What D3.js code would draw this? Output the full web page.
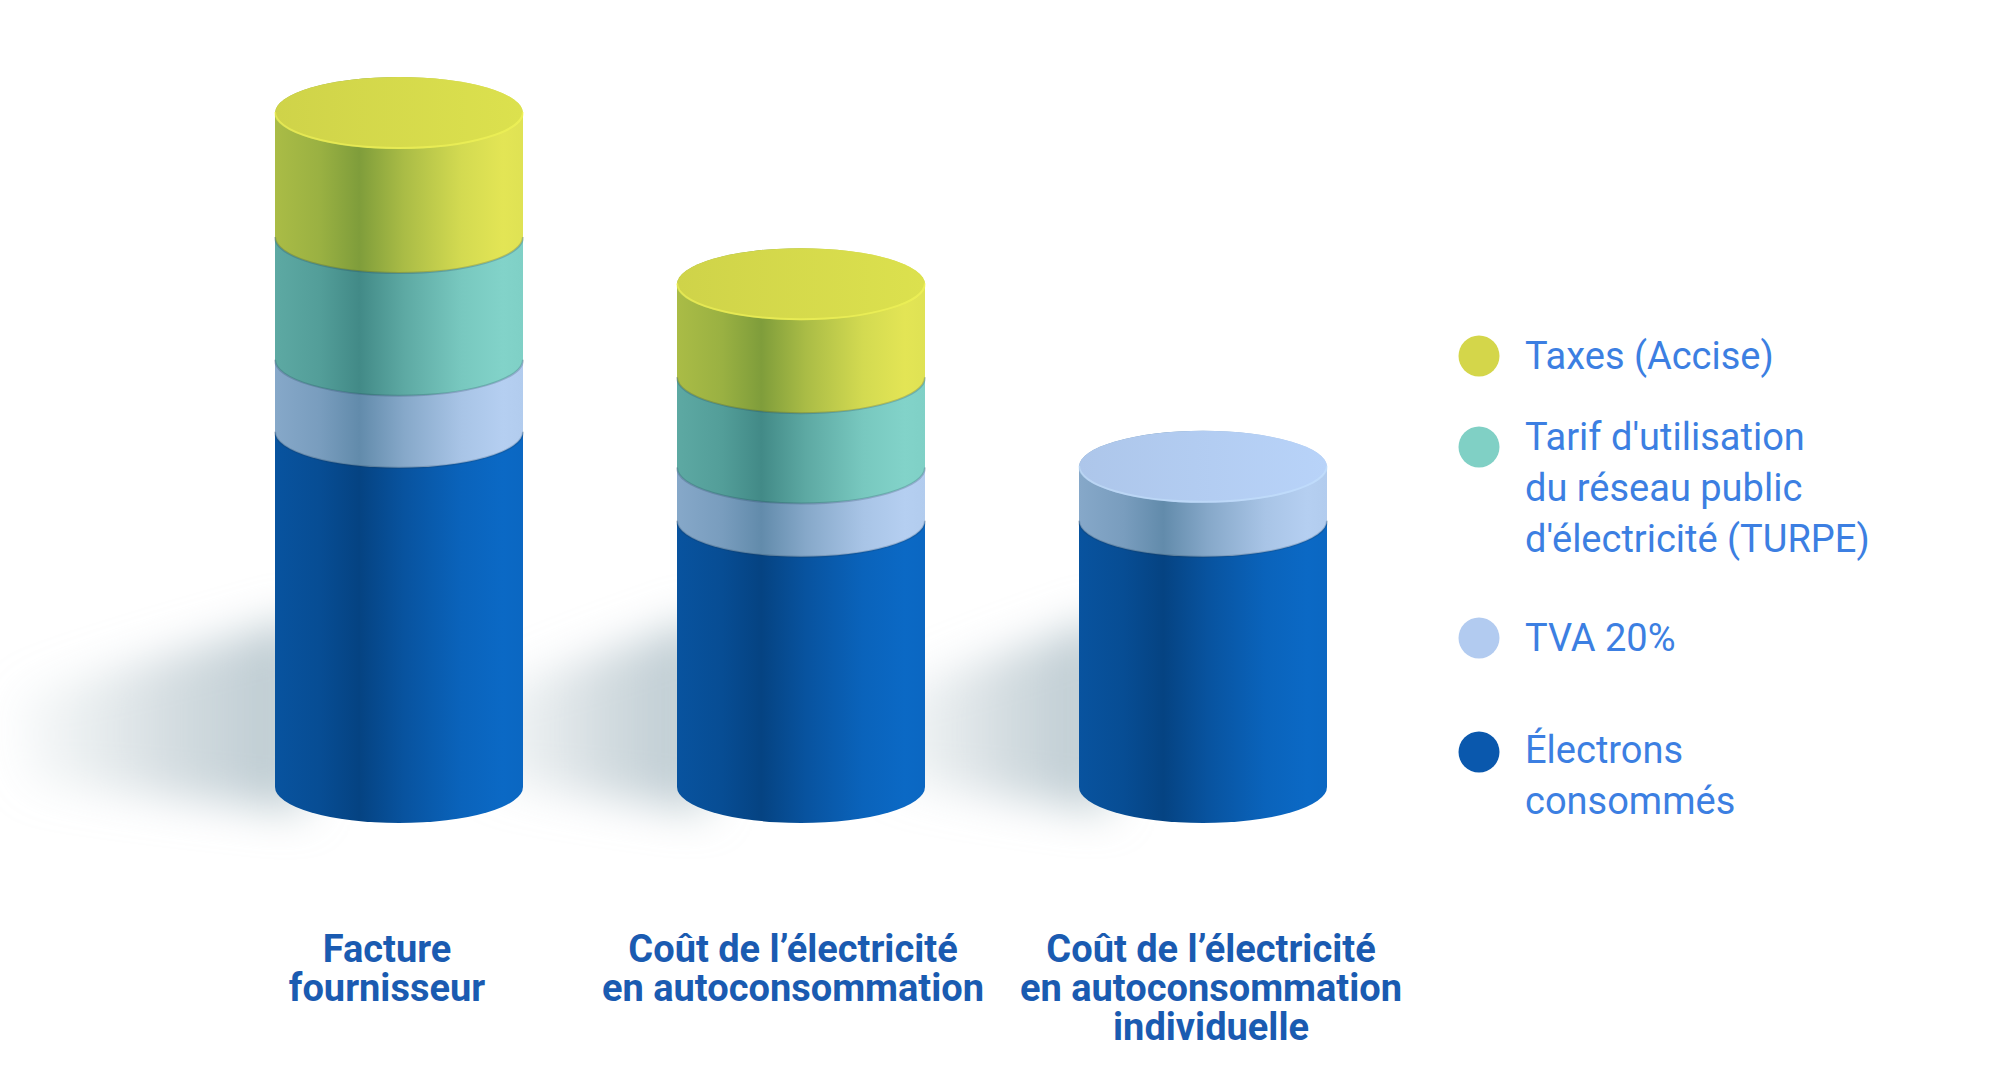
<!DOCTYPE html>
<html>
<head>
<meta charset="utf-8">
<script src="https://cdn.jsdelivr.net/npm/d3@7"></script>
<style>
  html, body { margin: 0; padding: 0; background: #fff; }
  svg { display: block; }
</style>
</head>
<body>
<div id="chart"></div>
<script>
// Values (Facture fournisseur = 100)
const categories = ["Facture fournisseur", "Coût de l’électricité en autoconsommation", "Coût de l’électricité en autoconsommation individuelle"];
const categoryLines = [["Facture", "fournisseur"], ["Coût de l’électricité", "en autoconsommation"], ["Coût de l’électricité", "en autoconsommation", "individuelle"]];
const seriesKeys = ["electrons", "tva", "turpe", "taxes"];
const electrons = [52.7, 39.5, 39.5];
const tva = [10.7, 7.9, 8.0];
const turpe = [18.2, 13.4, 0];
const taxes = [18.4, 13.8, 0];
const legendKeys = ["taxes", "turpe", "tva", "electrons"];
const legendLines = [["Taxes (Accise)"], ["Tarif d'utilisation", "du réseau public", "d'électricité (TURPE)"], ["TVA 20%"], ["Électrons", "consommés"]];

// colours: lit side, shaded side, top face
const colors = {
  taxes:     { light: "#e3e555", dark: "#7b9a3a", top: "#d6db4c", dot: "#d4d64a" },
  turpe:     { light: "#82d3c9", dark: "#3f8784", top: "#84d3c8", dot: "#80d0c5" },
  tva:       { light: "#b5cff1", dark: "#5f88a8", top: "#b3cdf2", dot: "#b2cbf0" },
  electrons: { light: "#0b69c5", dark: "#05417f", top: "#0a62b8", dot: "#0a58ad" }
};

let width = 1999, height = 1092;
let rx = 124, ry = 36;

const table = categories.map((c, i) => ({
  category: c, electrons: electrons[i], tva: tva[i], turpe: turpe[i], taxes: taxes[i]
}));
const stacked = d3.stack().keys(seriesKeys)(table);

const x = d3.scaleBand().domain(categories).range([198, 1404]).padding(0);
const y = d3.scaleLinear().domain([0, 100]).range([787, 113]);
const cx = c => x(c) + x.bandwidth() / 2;

const svg = d3.select("#chart").append("svg")
    .attr("width", width)
    .attr("height", height)
    .attr("viewBox", [0, 0, width, height]);

const defs = svg.append("defs");

// side gradients: medium on the left, dark band, bright on the right
seriesKeys.forEach(k => {
  const mix = d3.interpolateRgb(colors[k].dark, colors[k].light);
  const g = defs.append("linearGradient").attr("id", `side-${k}`)
      .attr("x1", 0).attr("x2", 1).attr("y1", 0).attr("y2", 0);
  [[0, 0.45], [0.18, 0.3], [0.34, 0.04], [0.52, 0.45], [0.75, 0.85], [0.92, 1], [1, 0.96]]
    .forEach(([o, t]) => g.append("stop").attr("offset", o).attr("stop-color", mix(t)));
  const tg = defs.append("linearGradient").attr("id", `top-${k}`)
      .attr("x1", 0).attr("x2", 1).attr("y1", 0).attr("y2", 0);
  tg.append("stop").attr("offset", 0).attr("stop-color", d3.color(colors[k].top).darker(0.1));
  tg.append("stop").attr("offset", 1).attr("stop-color", d3.color(colors[k].top).brighter(0.08));
});

defs.append("filter").attr("id", "blur")
    .attr("x", "-50%").attr("y", "-50%").attr("width", "200%").attr("height", "200%")
  .append("feGaussianBlur").attr("stdDeviation", 22);

const shadowGrad = defs.append("linearGradient").attr("id", "shadow-grad")
    .attr("x1", 0).attr("x2", 1).attr("y1", 0).attr("y2", 0);
shadowGrad.append("stop").attr("offset", 0).attr("stop-color", "#c8d3d8").attr("stop-opacity", 0.1);
shadowGrad.append("stop").attr("offset", 0.6).attr("stop-color", "#c0cdd3").attr("stop-opacity", 0.75);
shadowGrad.append("stop").attr("offset", 1).attr("stop-color", "#b5c5cc").attr("stop-opacity", 0.95);

// ground shadows, cast to the left
svg.append("g")
  .selectAll("path")
  .data(categories)
  .join("path")
    .attr("filter", "url(#blur)")
    .attr("fill", "url(#shadow-grad)")
    .attr("d", c => {
      const l = cx(c) - rx, b = y(0);
      const reach = c === categories[0] ? 250 : 190;
      return `M${l + 30},${b + 24} L${l - reach},${b - 5} L${l - reach - 10},${b - 90} L${l + 30},${b - 170} Z`;
    });

// cylinders, one segment per stacked layer, drawn bottom to top
const sidePath = (c, y0, y1) => {
  const l = cx(c) - rx, r = cx(c) + rx;
  return `M${l},${y1} L${l},${y0} A${rx},${ry} 0 0 0 ${r},${y0} L${r},${y1} A${rx},${ry} 0 0 0 ${l},${y1} Z`;
};
const frontArc = (c, yy) => `M${cx(c) - rx},${yy} A${rx},${ry} 0 0 0 ${cx(c) + rx},${yy}`;

const cyl = svg.append("g");
stacked.forEach(layer => {
  const k = layer.key;
  const segs = layer.filter(d => d[1] - d[0] > 0);
  cyl.append("g")
    .selectAll("path")
    .data(segs)
    .join("path")
      .attr("fill", `url(#side-${k})`)
      .attr("d", d => sidePath(d.data.category, y(d[0]), y(d[1])));
  // soft contact line under each upper layer
  cyl.append("g")
    .selectAll("path")
    .data(segs.filter(d => d[0] > 0))
    .join("path")
      .attr("fill", "none")
      .attr("stroke", "#1d3550")
      .attr("stroke-opacity", 0.22)
      .attr("stroke-width", 2)
      .attr("d", d => frontArc(d.data.category, y(d[0])));
});

// top faces
const topOf = categories.map((c, i) => {
  let key = null, val = 0;
  stacked.forEach(layer => {
    if (layer[i][1] - layer[i][0] > 0) { key = layer.key; val = layer[i][1]; }
  });
  return { category: c, key, val };
});
const tops = cyl.append("g")
  .selectAll("g")
  .data(topOf)
  .join("g");
tops.append("ellipse")
    .attr("cx", d => cx(d.category))
    .attr("cy", d => y(d.val))
    .attr("rx", rx)
    .attr("ry", ry)
    .attr("fill", d => `url(#top-${d.key})`);
// faint rim on the front of the top face
tops.append("path")
    .attr("fill", "none")
    .attr("stroke", d => d3.color(colors[d.key].light).brighter(0.3))
    .attr("stroke-opacity", 0.45)
    .attr("stroke-width", 2)
    .attr("d", d => frontArc(d.category, y(d.val) - 1));

// category labels
const labelDx = [-12, -8, 8];
svg.append("g")
    .style("font", "bold 38px Roboto")
    .attr("fill", "#1a5bb1")
    .attr("text-anchor", "middle")
  .selectAll("text")
  .data(categories)
  .join("text")
    .attr("x", (c, i) => cx(c) + labelDx[i])
    .attr("y", 962)
  .selectAll("tspan")
  .data((c, i) => categoryLines[i])
  .join("tspan")
    .attr("x", function() { return this.parentNode.getAttribute("x"); })
    .attr("dy", (d, i) => i === 0 ? 0 : 39)
    .text(d => d);

// legend
const legendY = [356, 447, 638, 752];
const legendTextY = [13, 3, 13, 11];
const legend = svg.append("g")
  .selectAll("g")
  .data(legendKeys)
  .join("g")
    .attr("transform", (k, i) => `translate(1479,${legendY[i]})`);

legend.append("circle")
    .attr("r", 20.5)
    .attr("fill", k => colors[k].dot);

legend.append("text")
    .style("font", "38px Roboto")
    .attr("fill", "#3c7fe2")
    .attr("y", (k, i) => legendTextY[i])
  .selectAll("tspan")
  .data((k, i) => legendLines[i])
  .join("tspan")
    .attr("x", 46)
    .attr("dy", (d, i) => i === 0 ? 0 : 51)
    .text(d => d);
</script>
</body>
</html>
